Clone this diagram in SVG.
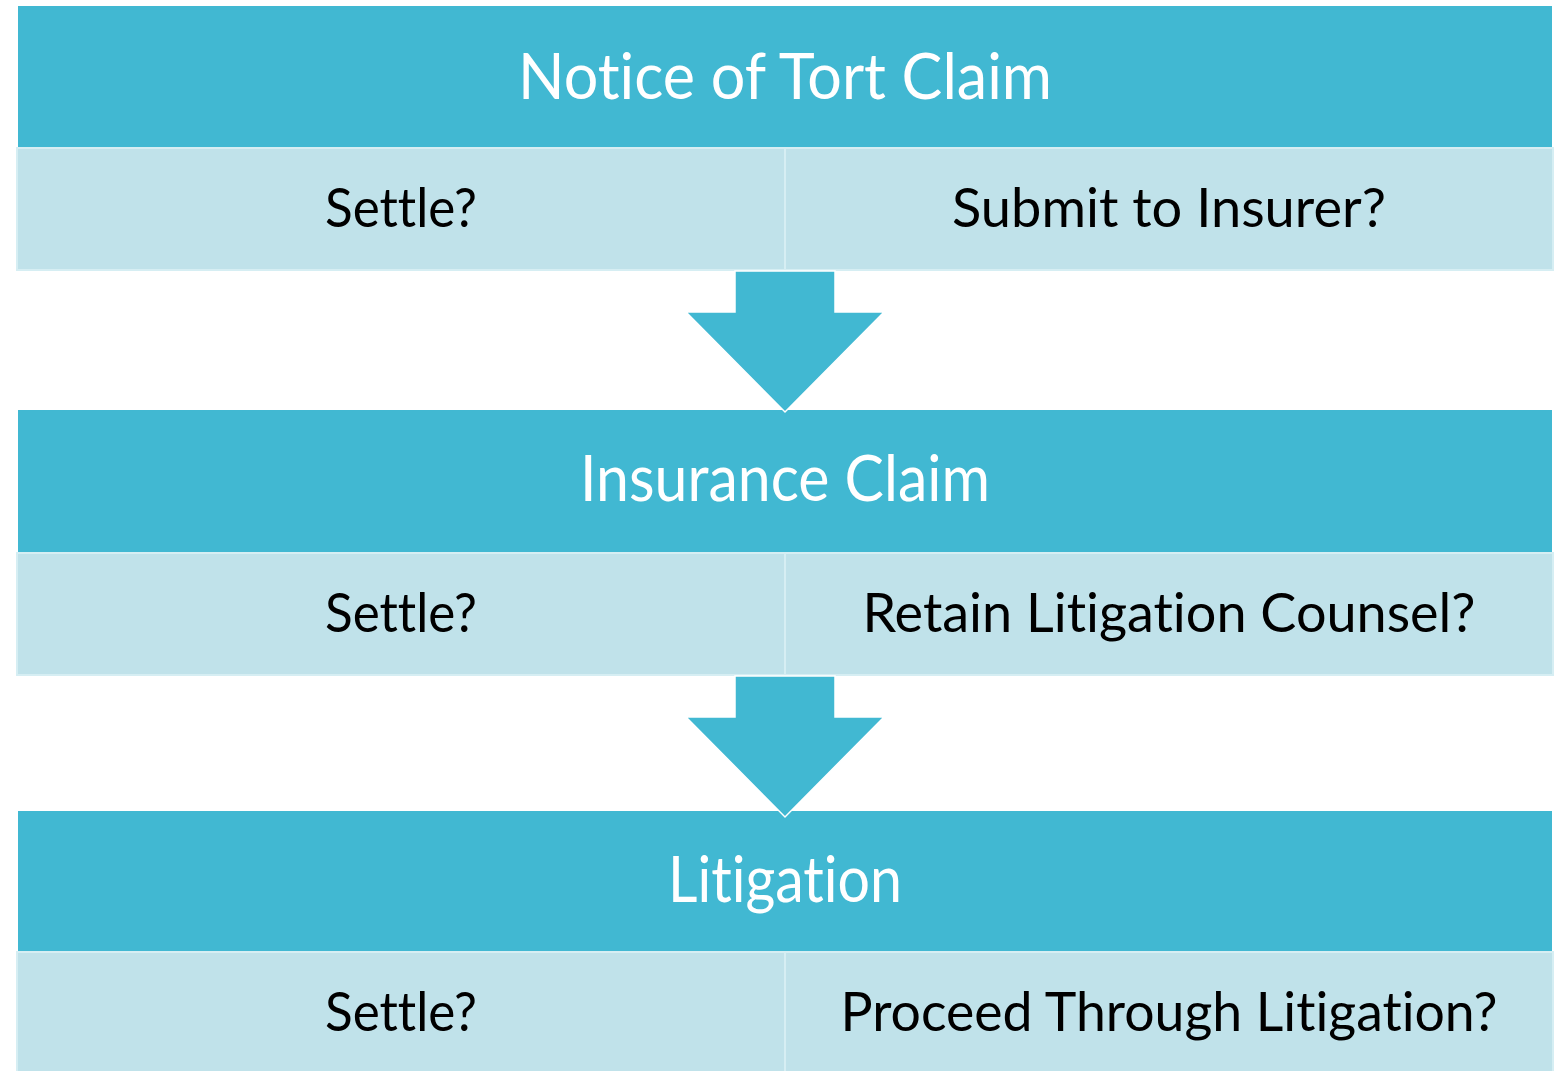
<svg xmlns="http://www.w3.org/2000/svg" width="1559" height="1071" viewBox="0 0 1559 1071">
  <style>
    .head { fill: #41B8D2; }
    .cell { fill: #C0E2EA; stroke: #D6EEF3; stroke-width: 2; }
    .arrow { fill: #41B8D2; stroke: #FFFFFF; stroke-width: 1.5; stroke-linejoin: miter; }
    text { font-family: Lato, "Open Sans", "Liberation Sans", sans-serif; font-variant-ligatures: none; font-feature-settings: "liga" 0, "clig" 0; text-anchor: middle; }
    .title { font-size: 63px; fill: #FFFFFF; }
    .label { font-size: 54px; fill: #000000; }
  </style>

  <rect width="1559" height="1071" fill="#FFFFFF"/>

  <!-- Stage 1 -->
  <g id="stage-notice">
    <rect class="head" x="18" y="6" width="1534" height="141"/>
    <text class="title" x="785" y="99" textLength="534" lengthAdjust="spacingAndGlyphs">Notice of Tort Claim</text>
    <g id="notice-settle">
      <rect class="cell" x="17" y="148" width="768" height="122"/>
      <text class="label" x="401" y="227" textLength="152" lengthAdjust="spacingAndGlyphs">Settle?</text>
    </g>
    <g id="notice-submit">
      <rect class="cell" x="785" y="148" width="768" height="122"/>
      <text class="label" x="1169" y="227" textLength="434" lengthAdjust="spacingAndGlyphs">Submit to Insurer?</text>
    </g>
  </g>

  <!-- Stage 2 -->
  <g id="stage-insurance">
    <rect class="head" x="18" y="410" width="1534" height="142"/>
    <text class="title" x="785" y="501" textLength="410" lengthAdjust="spacingAndGlyphs">Insurance Claim</text>
    <g id="insurance-settle">
      <rect class="cell" x="17" y="553" width="768" height="122"/>
      <text class="label" x="401" y="632" textLength="152" lengthAdjust="spacingAndGlyphs">Settle?</text>
    </g>
    <g id="insurance-counsel">
      <rect class="cell" x="785" y="553" width="768" height="122"/>
      <text class="label" x="1169" y="632" textLength="613" lengthAdjust="spacingAndGlyphs">Retain Litigation Counsel?</text>
    </g>
  </g>

  <!-- Stage 3 -->
  <g id="stage-litigation">
    <rect class="head" x="18" y="811" width="1534" height="140"/>
    <text class="title" x="785" y="902" textLength="234" lengthAdjust="spacingAndGlyphs">Litigation</text>
    <g id="litigation-settle">
      <rect class="cell" x="17" y="952" width="768" height="124"/>
      <text class="label" x="401" y="1031" textLength="152" lengthAdjust="spacingAndGlyphs">Settle?</text>
    </g>
    <g id="litigation-proceed">
      <rect class="cell" x="785" y="952" width="768" height="124"/>
      <text class="label" x="1169" y="1031" textLength="657" lengthAdjust="spacingAndGlyphs">Proceed Through Litigation?</text>
    </g>
  </g>

  <!-- Block arrows between stages -->
  <g id="connectors">
    <polygon class="arrow" points="735,271 835,271 835,312 884,312 785,412 686,312 735,312"/>
    <polygon class="arrow" points="735,676 835,676 835,717 884,717 785,817 686,717 735,717"/>
  </g>
</svg>
